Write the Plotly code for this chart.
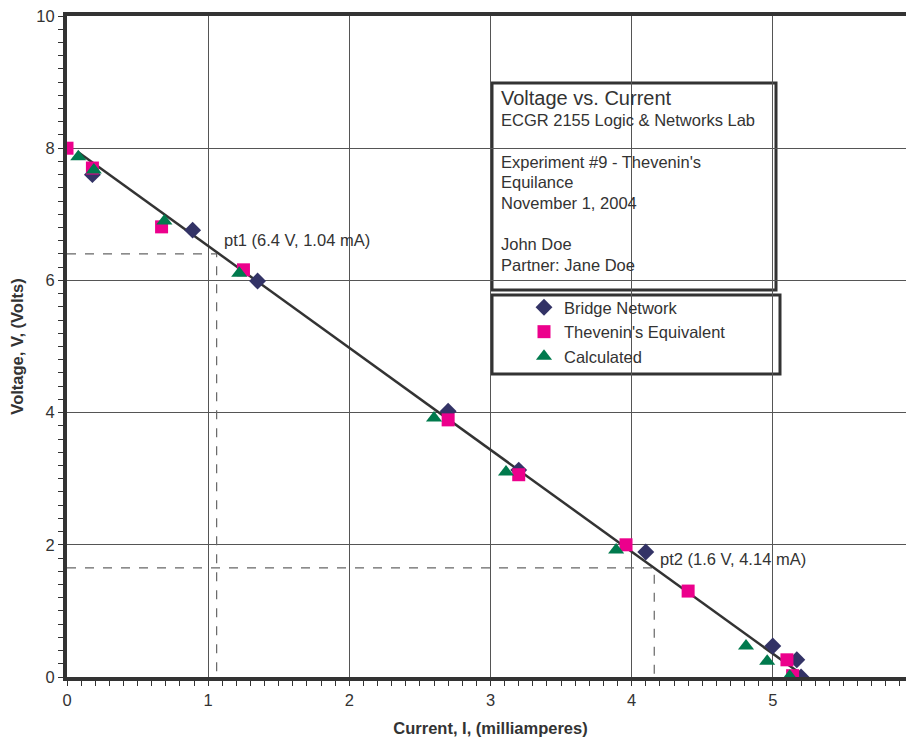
import plotly.graph_objects as go

# ---- data ----
bridge_x = [0.18, 0.89, 1.35, 2.70, 3.20, 4.10, 5.00, 5.17, 5.20]
bridge_y = [7.60, 6.76, 5.99, 4.02, 3.13, 1.89, 0.47, 0.26, 0.00]

thev_x = [0.00, 0.18, 0.67, 1.25, 2.70, 3.20, 3.96, 4.40, 5.10, 5.14]
thev_y = [8.00, 7.70, 6.81, 6.16, 3.89, 3.06, 2.00, 1.30, 0.26, 0.02]

calc_x = [0.08, 0.19, 0.69, 1.22, 2.60, 3.11, 3.89, 4.81, 4.96, 5.12]
calc_y = [7.87, 7.67, 6.90, 6.11, 3.92, 3.10, 1.92, 0.47, 0.24, 0.01]

fit_x = [0.08, 5.19]
fit_y = [7.94, 0.06]

pt1_x, pt1_y = 1.06, 6.40
pt2_x, pt2_y = 4.16, 1.65
pt1_label = "pt1 (6.4 V, 1.04 mA)"
pt2_label = "pt2 (1.6 V, 4.14 mA)"

info_lines = ["Voltage vs. Current", "ECGR 2155 Logic & Networks Lab", "",
              "Experiment #9 - Thevenin's", "Equilance", "November 1, 2004", "",
              "John Doe", "Partner: Jane Doe"]

x_ticks = [0, 1, 2, 3, 4, 5, 6]
y_ticks = [0, 2, 4, 6, 8, 10]

FONT = "Liberation Sans, Arial, sans-serif"
TXT = "#333333"
FS = 16.5

fig = go.Figure()

# dashed guide lines
fig.add_trace(go.Scatter(x=[0, pt1_x, pt1_x], y=[pt1_y, pt1_y, 0], mode="lines",
                         line=dict(color="#666666", width=1.2, dash="dash"),
                         showlegend=False, hoverinfo="skip"))
fig.add_trace(go.Scatter(x=[0, pt2_x, pt2_x], y=[pt2_y, pt2_y, 0], mode="lines",
                         line=dict(color="#666666", width=1.2, dash="dash"),
                         showlegend=False, hoverinfo="skip"))

# fit line
fig.add_trace(go.Scatter(x=fit_x, y=fit_y, mode="lines",
                         line=dict(color="#333333", width=2.5),
                         showlegend=False, hoverinfo="skip"))

fig.add_trace(go.Scatter(x=bridge_x, y=bridge_y, mode="markers", name="Bridge Network",
                         marker=dict(symbol="diamond", size=13, color="#333366"),
                         legendgroup="a"))
fig.add_trace(go.Scatter(x=thev_x, y=thev_y, mode="markers", name="Thevenin's Equivalent",
                         marker=dict(symbol="square", size=13, color="#EC008C"),
                         legendgroup="b"))
fig.add_trace(go.Scatter(x=calc_x, y=calc_y, mode="markers", name="Calculated",
                         marker=dict(symbol="triangle-up", size=14, color="#007A4D"),
                         legendgroup="c"))

# plot area in page pixels (page body has an 8px margin)
OFF = 8
FW, FH = 914 - OFF, 740 - OFF
L, T, W, H = 67, 16, 847, 661
def px(xp):
    return (xp - L) / W
def py(yp):
    return (T + H - yp) / H

annotations = []
line_y = [98, 120, None, 162, 182, 203, None, 244, 265]
for txt, yy in zip(info_lines, line_y):
    if not txt:
        continue
    annotations.append(dict(xref="paper", yref="paper", x=px(499), y=py(yy),
                            text=txt, showarrow=False, xanchor="left", yanchor="middle",
                            font=dict(family=FONT, size=20 if yy == 98 else FS, color=TXT)))
annotations.append(dict(x=1.10, y=6.61, text=pt1_label, showarrow=False,
                        xanchor="left", yanchor="middle",
                        font=dict(family=FONT, size=FS, color=TXT)))
annotations.append(dict(x=4.19, y=1.785, text=pt2_label, showarrow=False,
                        xanchor="left", yanchor="middle",
                        font=dict(family=FONT, size=FS, color=TXT)))

shapes = [
    dict(type="rect", xref="paper", yref="paper", x0=px(492), x1=px(776), y0=py(290), y1=py(83),
         line=dict(color="#333333", width=3), fillcolor="white", layer="below"),
    dict(type="rect", xref="paper", yref="paper", x0=px(492), x1=px(780), y0=py(374), y1=py(295),
         line=dict(color="#333333", width=3), fillcolor="white", layer="below"),
]

fig.update_layout(
    width=FW, height=FH,
    margin=dict(l=L - OFF, r=max(0, FW - (L - OFF) - W), t=T - OFF, b=FH - (T - OFF) - H),
    paper_bgcolor="white", plot_bgcolor="rgba(0,0,0,0)",
    font=dict(family=FONT, color=TXT, size=FS),
    showlegend=True,
    legend=dict(x=px(524), y=py(290), xanchor="left", yanchor="top",
                bgcolor="rgba(0,0,0,0)", borderwidth=0,
                font=dict(family=FONT, size=FS, color=TXT),
                traceorder="grouped", tracegroupgap=0, itemwidth=30),
    annotations=annotations,
    shapes=shapes,
)

fig.update_xaxes(range=[0, 6], tickvals=x_ticks, ticktext=[str(v) for v in x_ticks],
                 automargin=False, ticklabeloverflow="allow",
                 showgrid=True, gridcolor="#555555", gridwidth=1,
                 showline=True, linecolor="#333333", linewidth=4, mirror=True,
                 ticks="outside", ticklen=5, tickcolor="#333333", tickwidth=1,
                 minor=dict(dtick=0.1, tick0=0, ticks="outside", ticklen=5,
                            tickcolor="#333333", showgrid=False),
                 zeroline=False,
                 tickfont=dict(family=FONT, size=FS, color=TXT),
                 title=dict(text="<b>Current, I, (milliamperes)</b>", standoff=16,
                            font=dict(family=FONT, size=FS, color=TXT)))
fig.update_yaxes(range=[0, 10], tickvals=y_ticks, ticktext=[str(v) for v in y_ticks],
                 automargin=False, ticklabeloverflow="allow",
                 showgrid=True, gridcolor="#555555", gridwidth=1,
                 showline=True, linecolor="#333333", linewidth=4,
                 ticks="outside", ticklen=5, tickcolor="#333333", tickwidth=1,
                 minor=dict(dtick=0.2, tick0=0, ticks="outside", ticklen=5,
                            tickcolor="#333333", showgrid=False),
                 zeroline=False,
                 tickfont=dict(family=FONT, size=FS, color=TXT),
                 title=dict(text="<b>Voltage, V, (Volts)</b>", standoff=12,
                            font=dict(family=FONT, size=FS, color=TXT)))

fig.write_html("out.html")
